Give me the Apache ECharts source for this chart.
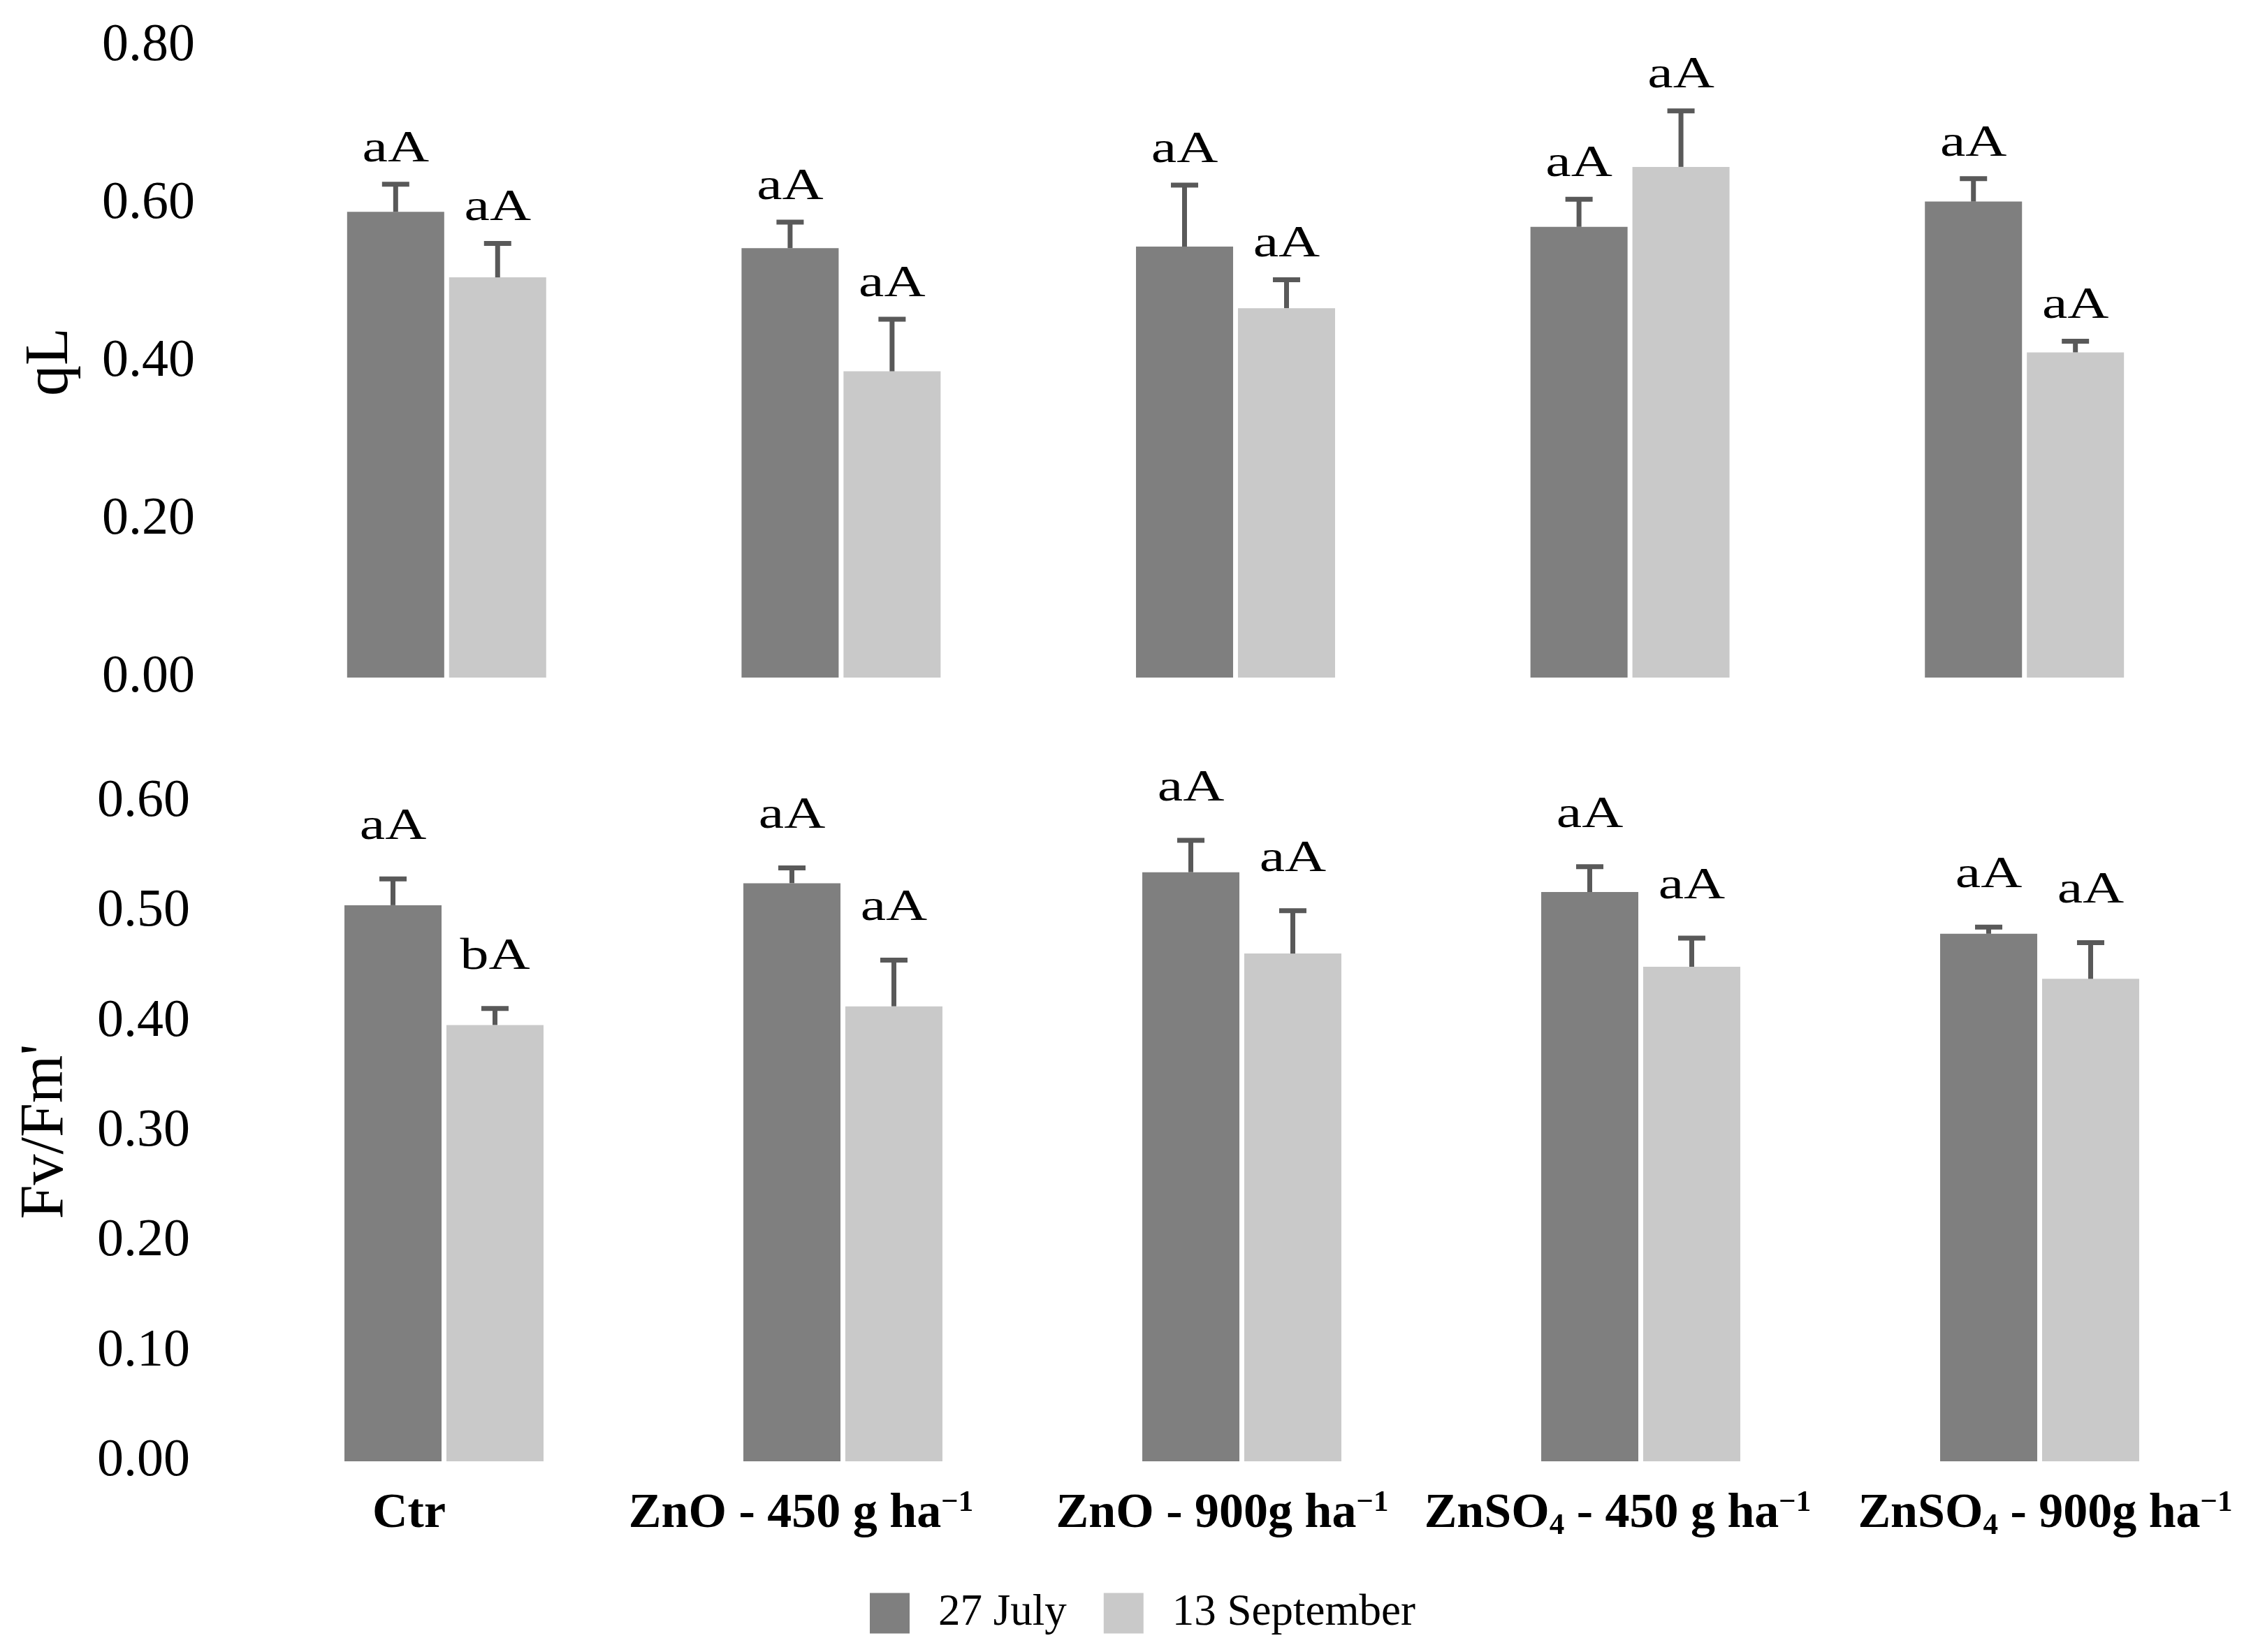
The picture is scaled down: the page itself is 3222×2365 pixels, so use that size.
<!DOCTYPE html>
<html><head><meta charset="utf-8">
<script src="https://cdn.jsdelivr.net/npm/echarts@6/dist/echarts.min.js"></script>
<style>html,body{margin:0;padding:0;background:#fff}#c{width:3222px;height:2365px}</style>
</head><body><div id="c"></div>
<script>
// ---- data ----
const categories = ['Ctr', 'ZnO - 450 g ha-1', 'ZnO - 900g ha-1', 'ZnSO4 - 450 g ha-1', 'ZnSO4 - 900g ha-1'];
const seriesNames = ['27 July', '13 September'];

const qlJuly      = [0.590, 0.544, 0.546, 0.571, 0.603];
const qlJulyErr   = [0.035, 0.033, 0.078, 0.035, 0.029];
const qlSept      = [0.507, 0.388, 0.468, 0.647, 0.412];
const qlSeptErr   = [0.043, 0.066, 0.036, 0.071, 0.014];
const qlJulyLetters = ['aA', 'aA', 'aA', 'aA', 'aA'];
const qlSeptLetters = ['aA', 'aA', 'aA', 'aA', 'aA'];

const fvJuly      = [0.506, 0.526, 0.536, 0.518, 0.480];
const fvJulyErr   = [0.024, 0.014, 0.029, 0.023, 0.006];
const fvSept      = [0.397, 0.414, 0.462, 0.450, 0.439];
const fvSeptErr   = [0.015, 0.042, 0.039, 0.026, 0.033];
const fvJulyLetters = ['aA', 'aA', 'aA', 'aA', 'aA'];
const fvSeptLetters = ['bA', 'aA', 'aA', 'aA', 'aA'];

const qlTicks = { min: 0, max: 0.8, interval: 0.2 };
const fvTicks = { min: 0, max: 0.6, interval: 0.1 };

// ---- styles ----
const SERIF = '"Liberation Serif", "DejaVu Serif", serif';
const DARK = '#7f7f7f', LIGHT = '#c9c9c9', ERR = '#595959';
const BAR_W = 139, GAP_PCT = 0.05;
const OFFSET = (BAR_W + BAR_W * GAP_PCT) / 2;
const CAP = 39;
const LABEL_SHIFT = [-50, -60, -28, -33, 8]; // horizontal nudge of x labels (px)

function errRender(means, errs, letters, side, labelGap) {
  return function (params, api) {
    const i = params.dataIndex;
    const base = api.coord([i, means[i]]);
    const top = api.coord([i, means[i] + errs[i]]);
    const x = base[0] + side * OFFSET;
    return {
      type: 'group',
      children: [
        { type: 'line', shape: { x1: x, y1: base[1], x2: x, y2: top[1] }, style: { stroke: ERR, lineWidth: 7 } },
        { type: 'line', shape: { x1: x - CAP / 2, y1: top[1], x2: x + CAP / 2, y2: top[1] }, style: { stroke: ERR, lineWidth: 7 } },
        { type: 'text', x: x, y: top[1] - labelGap, scaleX: 1.28,
          style: { text: letters[i], x: 0, y: 0, align: 'center', verticalAlign: 'middle',
                   fontSize: 64, fontFamily: SERIF, fill: '#000' } }
      ]
    };
  };
}

const richStyles = {
  sup: { fontFamily: SERIF, fontWeight: 'bold', fontSize: 43, lineHeight: 42, verticalAlign: 'top', color: '#000' },
  sub: { fontFamily: SERIF, fontWeight: 'bold', fontSize: 43, lineHeight: 30, verticalAlign: 'bottom', color: '#000' }
};
LABEL_SHIFT.forEach((s, i) => { richStyles['sp' + i] = { width: Math.abs(s) * 2, lineHeight: 10 }; });

function fmtCat(v, i) {
  const t = v.replace('SO4', 'SO{sub|4}').replace(/ha-1$/, 'ha{sup|\u22121}');
  const sp = '{sp' + i + '|}';
  return LABEL_SHIFT[i] < 0 ? t + sp : sp + t;
}

const chart = echarts.init(document.getElementById('c'), null, { renderer: 'canvas' });
const yAxisCommon = {
  type: 'value',
  nameLocation: 'middle',
  nameGap: 240,
  nameTextStyle: { fontFamily: SERIF, fontSize: 88, color: '#000' },
  axisLine: { show: false }, axisTick: { show: false }, splitLine: { show: false },
  axisLabel: { fontFamily: SERIF, fontSize: 76, color: '#000', margin: 78,
               formatter: v => v.toFixed(2) }
};
const xAxisCommon = {
  type: 'category', data: categories,
  axisLine: { show: false }, axisTick: { show: false }, splitLine: { show: false }
};

chart.setOption({
  animation: false,
  backgroundColor: '#fff',
  grid: [
    { left: 357, width: 2823, top: 66, height: 904 },
    { left: 350, width: 2855, top: 1148, height: 944 }
  ],
  xAxis: [
    Object.assign({}, xAxisCommon, { gridIndex: 0, axisLabel: { show: false } }),
    Object.assign({}, xAxisCommon, { gridIndex: 1, axisLabel: {
      interval: 0, margin: 38, formatter: fmtCat,
      fontFamily: SERIF, fontWeight: 'bold', fontSize: 70, color: '#000', lineHeight: 76,
      rich: richStyles
    } })
  ],
  yAxis: [
    Object.assign({}, yAxisCommon, qlTicks, { gridIndex: 0, name: 'qL' }),
    Object.assign({}, yAxisCommon, fvTicks, { gridIndex: 1, name: "Fv/Fm'" })
  ],
  legend: {
    data: seriesNames, left: 1240, top: 2273, orient: 'horizontal',
    itemWidth: 57, itemHeight: 58, itemGap: 53, icon: 'rect',
    textStyle: { fontFamily: SERIF, fontSize: 63, color: '#000', padding: [0, 0, 0, 36] }
  },
  series: [
    { name: seriesNames[0], type: 'bar', xAxisIndex: 0, yAxisIndex: 0, data: qlJuly,
      barWidth: BAR_W, barGap: '5%', itemStyle: { color: DARK } },
    { name: seriesNames[1], type: 'bar', xAxisIndex: 0, yAxisIndex: 0, data: qlSept,
      barWidth: BAR_W, barGap: '5%', itemStyle: { color: LIGHT } },
    { name: seriesNames[0], type: 'bar', xAxisIndex: 1, yAxisIndex: 1, data: fvJuly,
      barWidth: BAR_W, barGap: '5%', itemStyle: { color: DARK } },
    { name: seriesNames[1], type: 'bar', xAxisIndex: 1, yAxisIndex: 1, data: fvSept,
      barWidth: BAR_W, barGap: '5%', itemStyle: { color: LIGHT } },
    { name: 'errQlJuly', type: 'custom', xAxisIndex: 0, yAxisIndex: 0, z: 5,
      data: qlJuly.map((v, i) => [i, v + qlJulyErr[i]]), renderItem: errRender(qlJuly, qlJulyErr, qlJulyLetters, -1, 50) },
    { name: 'errQlSept', type: 'custom', xAxisIndex: 0, yAxisIndex: 0, z: 5,
      data: qlSept.map((v, i) => [i, v + qlSeptErr[i]]), renderItem: errRender(qlSept, qlSeptErr, qlSeptLetters, 1, 50) },
    { name: 'errFvJuly', type: 'custom', xAxisIndex: 1, yAxisIndex: 1, z: 5,
      data: fvJuly.map((v, i) => [i, v + fvJulyErr[i]]), renderItem: errRender(fvJuly, fvJulyErr, fvJulyLetters, -1, 74) },
    { name: 'errFvSept', type: 'custom', xAxisIndex: 1, yAxisIndex: 1, z: 5,
      data: fvSept.map((v, i) => [i, v + fvSeptErr[i]]), renderItem: errRender(fvSept, fvSeptErr, fvSeptLetters, 1, 74) }
  ]
});
</script>
</body></html>
